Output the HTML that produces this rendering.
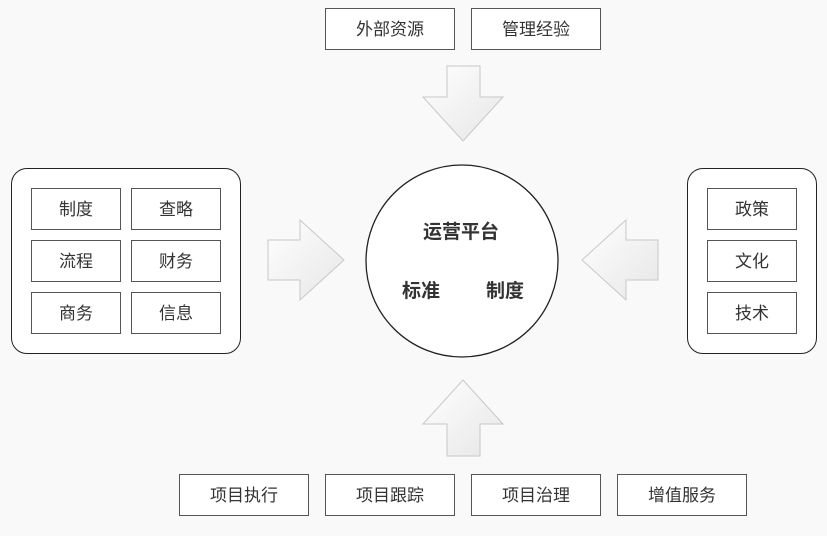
<!DOCTYPE html>
<html><head><meta charset="utf-8"><style>
body{margin:0;width:827px;height:536px;background:#f9f9f9;position:relative;overflow:hidden;font-family:"Liberation Sans","Noto Sans CJK SC",sans-serif;}
.b{position:absolute;box-sizing:border-box;border:1px solid #555;background:#fff;display:flex;align-items:center;justify-content:center;font-size:17px;color:#333;padding-bottom:3px;}
.c{position:absolute;box-sizing:border-box;border:1.3px solid #222;border-radius:16px;background:#fff;}
svg{position:absolute;left:0;top:0}
.t{position:absolute;font-weight:bold;font-size:19px;color:#333;}
</style></head><body>
<div class="c" style="left:11px;top:168px;width:230px;height:186px"></div>
<div class="c" style="left:687px;top:168px;width:130px;height:186px"></div>
<div class="b" style="left:31px;top:188px;width:90px;height:42px">制度</div>
<div class="b" style="left:131px;top:188px;width:90px;height:42px">查略</div>
<div class="b" style="left:31px;top:240px;width:90px;height:42px">流程</div>
<div class="b" style="left:131px;top:240px;width:90px;height:42px">财务</div>
<div class="b" style="left:31px;top:292px;width:90px;height:42px">商务</div>
<div class="b" style="left:131px;top:292px;width:90px;height:42px">信息</div>
<div class="b" style="left:707px;top:188px;width:90px;height:42px">政策</div>
<div class="b" style="left:707px;top:240px;width:90px;height:42px">文化</div>
<div class="b" style="left:707px;top:292px;width:90px;height:42px">技术</div>
<div class="b" style="left:325px;top:8px;width:130px;height:42px">外部资源</div>
<div class="b" style="left:471px;top:8px;width:130px;height:42px">管理经验</div>
<div class="b" style="left:179px;top:474px;width:130px;height:42px">项目执行</div>
<div class="b" style="left:325px;top:474px;width:130px;height:42px">项目跟踪</div>
<div class="b" style="left:471px;top:474px;width:130px;height:42px">项目治理</div>
<div class="b" style="left:617px;top:474px;width:130px;height:42px">增值服务</div>
<svg width="827" height="536">
<defs>
<linearGradient id="g" x1="0" y1="0" x2="1" y2="1"><stop offset="0" stop-color="#fff"/><stop offset="1" stop-color="#e6e6e6"/></linearGradient>
</defs>
<g fill="url(#g)" stroke="#c8c8c8" stroke-width="1">
<polygon points="447,66 480,66 480,97 503,97 463,141 423,97 447,97"/>
<polygon points="447,456 480,456 480,424 503,424 463,380 423,424 447,424"/>
<polygon points="268,240 300,240 300,220 344,260 300,300 300,280 268,280"/>
<polygon points="658,240 626,240 626,220 582,260 626,300 626,280 658,280"/>
</g>
<circle cx="462" cy="261" r="96" fill="#fff" stroke="#222" stroke-width="1.3"/>
</svg>
<div class="t" style="left:423px;top:217px">运营平台</div>
<div class="t" style="left:402px;top:276px">标准</div>
<div class="t" style="left:486px;top:276px">制度</div>
</body></html>
